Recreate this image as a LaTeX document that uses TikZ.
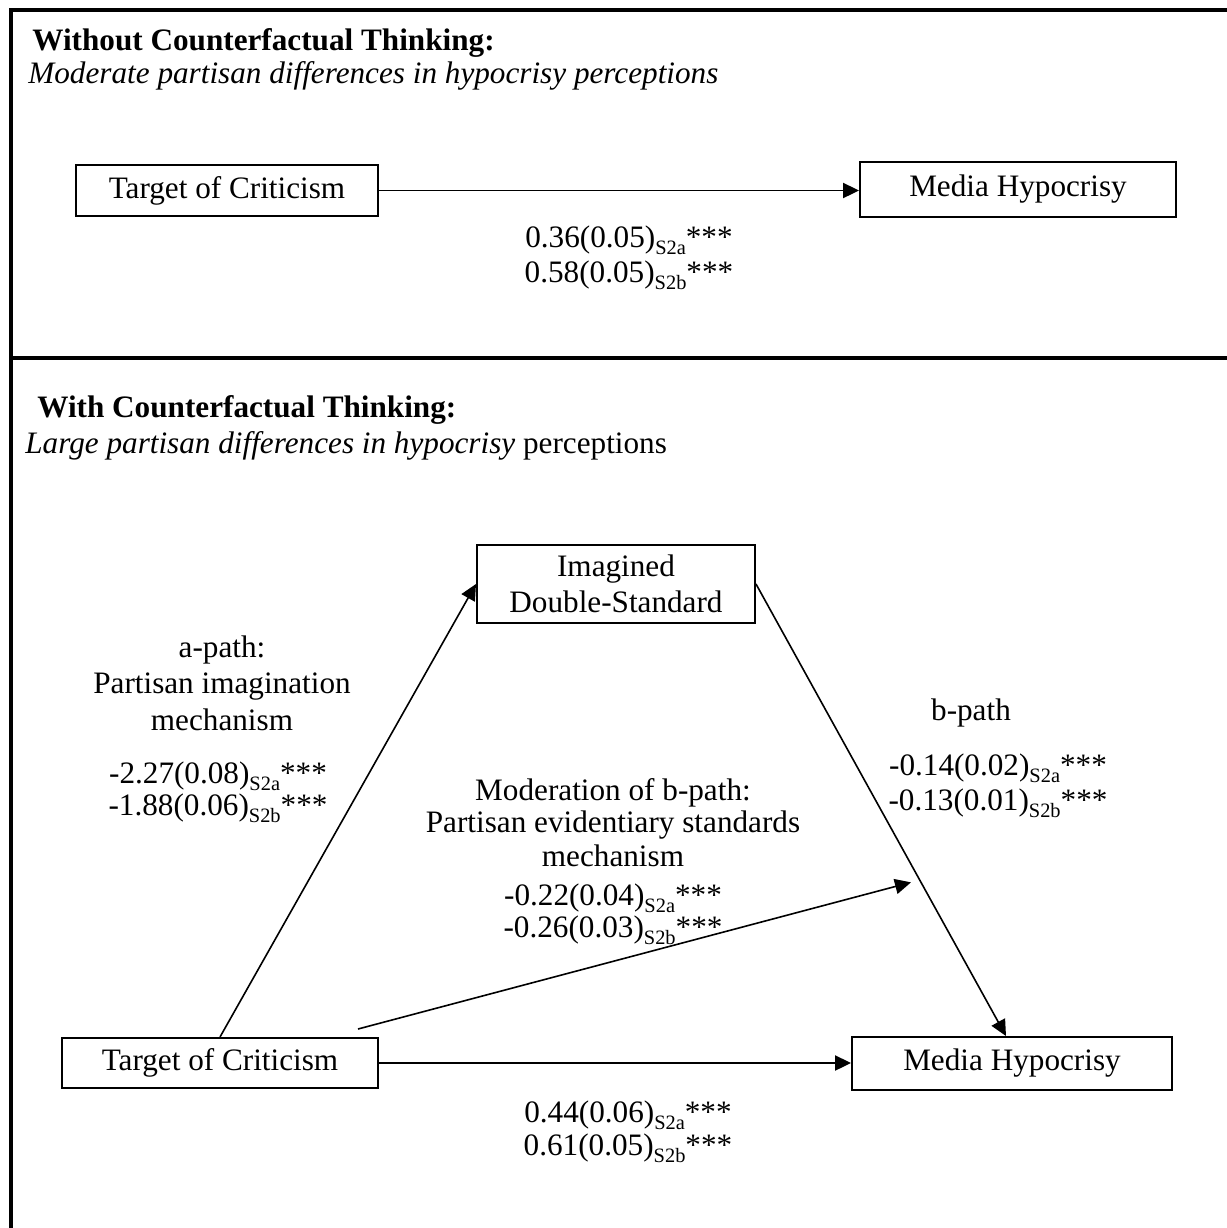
\documentclass[tikz,border=0pt]{standalone}
\usepackage{fontspec}
\setmainfont{Liberation Serif}
\usetikzlibrary{arrows.meta,calc}
\newcommand{\mysub}[1]{\raisebox{-3.8pt}{\fontsize{10.2}{11}\selectfont #1}}
\newcommand{\coef}[3]{#1(#2)\mysub{#3}***}
\begin{document}
\begin{tikzpicture}[x=0.5pt,y=-0.5pt,
  every node/.style={font=\fontsize{15.6}{18.25}\selectfont},
  box/.style={draw, line width=1pt, inner sep=0pt, align=center},
  lbl/.style={anchor=base, inner sep=0pt},
  conn/.style={line width=0.8pt, -{Triangle[length=8pt,width=7.6pt]}},
  frame/.style={line width=2pt}]
\useasboundingbox (0,0) rectangle (1227,1228);
% frame
\draw[frame] (10.5,1240) -- (10.5,9.5) -- (1240,9.5);
\draw[frame] (9,357.5) -- (1240,357.5);
% top panel
\node[lbl, anchor=base west] (h1) at (32,50) {\textbf{Without Counterfactual Thinking:}};
\node[lbl, anchor=base west] (s1) at (28,83) {\textit{Moderate partisan differences in hypocrisy perceptions}};
\node[box, minimum width=151pt, minimum height=25.5pt] (tA) at (227,190.5) {Target of Criticism};
\node[box, minimum width=158pt, minimum height=27.5pt] (mA) at (1018,189.5) {Media Hypocrisy};
\draw[conn] (tA.east) -- (tA.east -| mA.west);
\node[lbl] (cA1) at (629,247) {\coef{0.36}{0.05}{S2a}};
\node[lbl] (cA2) at (629,282) {\coef{0.58}{0.05}{S2b}};
% bottom panel
\node[lbl, anchor=base west] (h2) at (37,417) {\textbf{With Counterfactual Thinking:}};
\node[lbl, anchor=base west] (s2) at (25,453) {\textit{Large partisan differences in hypocrisy} perceptions};
\node[box, minimum width=139pt, minimum height=39pt] (im) at (616,584) {Imagined\\Double-Standard};
\node[box, minimum width=158pt, minimum height=25pt] (tB) at (220,1063) {Target of Criticism};
\node[box, minimum width=160pt, minimum height=26.5pt] (mB) at (1012,1063.5) {Media Hypocrisy};
% connectors
\draw[conn] (tB.north) -- (im.west);
\coordinate (bS) at (im.east);
\coordinate (bE) at ([xshift=-3pt]mB.north);
\draw[conn] (bS) -- (bE);
\coordinate (mT0) at ($(bS)!0.66!(bE)$);
\coordinate (mT) at ([xshift=-5pt]mT0);
\coordinate (mS) at ([xshift=-10.5pt,yshift=4pt]tB.north east);
\draw[conn] (mS) -- (mT);
\draw[conn] (tB.east) -- (tB.east -| mB.west);
% a-path labels
\node[lbl] (a1) at (222,657) {a-path:};
\node[lbl] (a2) at (222,693) {Partisan imagination};
\node[lbl] (a3) at (222,730) {mechanism};
\node[lbl] (a4) at (218,783) {\coef{-2.27}{0.08}{S2a}};
\node[lbl] (a5) at (218,815) {\coef{-1.88}{0.06}{S2b}};
% b-path labels
\node[lbl] (b1) at (971,720) {b-path};
\node[lbl] (b2) at (998,775) {\coef{-0.14}{0.02}{S2a}};
\node[lbl] (b3) at (998,810) {\coef{-0.13}{0.01}{S2b}};
% moderation labels
\node[lbl] (d1) at (613,800) {Moderation of b-path:};
\node[lbl] (d2) at (613,832) {Partisan evidentiary standards};
\node[lbl] (d3) at (613,866) {mechanism};
\node[lbl] (d4) at (613,905) {\coef{-0.22}{0.04}{S2a}};
\node[lbl] (d5) at (613,937) {\coef{-0.26}{0.03}{S2b}};
% direct path labels
\node[lbl] (cB1) at (628,1122) {\coef{0.44}{0.06}{S2a}};
\node[lbl] (cB2) at (628,1155) {\coef{0.61}{0.05}{S2b}};
\end{tikzpicture}
\end{document}
